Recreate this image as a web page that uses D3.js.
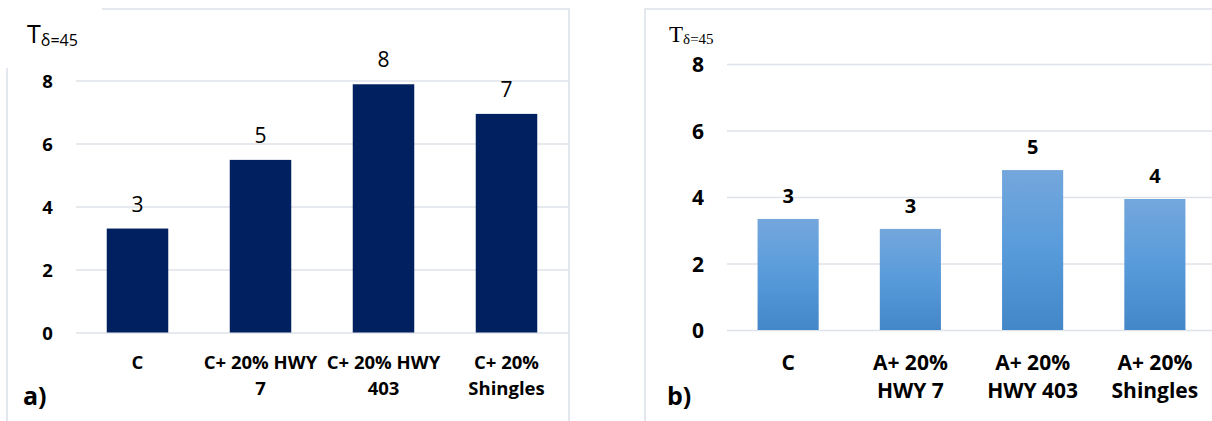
<!DOCTYPE html>
<html>
<head>
<meta charset="utf-8">
<script src="https://cdn.jsdelivr.net/npm/d3@7/dist/d3.min.js"></script>
<style>
  html, body { margin: 0; padding: 0; background: #fff; }
  svg { display: block; }
</style>
</head>
<body>
<svg id="chart" width="1212" height="421"></svg>
<script>
// Panel a) data
const catsA = [["C"], ["C+ 20% HWY", "7"], ["C+ 20% HWY", "403"], ["C+ 20%", "Shingles"]];
const valsA = [3.30, 5.48, 7.88, 6.94];
// Panel b) data
const catsB = [["C"], ["A+ 20%", "HWY 7"], ["A+ 20%", "HWY 403"], ["A+ 20%", "Shingles"]];
const valsB = [3.34, 3.04, 4.81, 3.94];
// Shared y-axis ticks
const yTicks = [0, 2, 4, 6, 8];

const svg = d3.select("#chart");
const sans = "'Open Sans', Lato, sans-serif";
const fmt = d3.format(".0f");

// Vertical gradient for the light-blue bars
const defs = svg.append("defs");
const grad = defs.append("linearGradient").attr("id", "blueGrad")
  .attr("x1", 0).attr("y1", 0).attr("x2", 0).attr("y2", 1);
grad.append("stop").attr("offset", "0%").attr("stop-color", "#74a7dc");
grad.append("stop").attr("offset", "50%").attr("stop-color", "#589bdb");
grad.append("stop").attr("offset", "100%").attr("stop-color", "#4487c8");

const frameColor = "#dde2ea";
const gridColor = "#dee2e9";

function panel(o) {
  const g = svg.append("g");
  const x = d3.scaleBand().domain(d3.range(o.cats.length))
    .range([o.x0, o.x1]).paddingInner(0.5).paddingOuter(0.25);
  const y = d3.scaleLinear().domain([0, 8]).range([o.y0, o.y8]);

  // gridlines + y tick labels
  const ax = g.append("g").attr("transform", `translate(${o.x0},0)`)
    .call(d3.axisLeft(y).tickValues(yTicks).tickFormat(d3.format("d"))
      .tickSize(-(o.gridEnd - o.x0)).tickPadding(0));
  ax.select(".domain").remove();
  ax.selectAll(".tick line").attr("stroke", gridColor).attr("stroke-width", 1.6);
  ax.selectAll(".tick text")
    .attr("x", o.tickX - o.x0).attr("dy", "0.36em")
    .attr("text-anchor", "middle")
    .style("font-family", sans).style("font-weight", 700)
    .style("font-size", o.tickSize + "px").attr("fill", "#000");

  // bars
  g.selectAll("rect.bar").data(o.vals).join("rect")
    .attr("class", "bar")
    .attr("x", (d, i) => x(i)).attr("width", x.bandwidth())
    .attr("y", d => y(d)).attr("height", d => y(0) - y(d))
    .attr("fill", o.fill);

  // value labels
  g.selectAll("text.val").data(o.vals).join("text")
    .attr("class", "val")
    .attr("x", (d, i) => x(i) + x.bandwidth() / 2)
    .attr("y", d => y(d) - o.valGap)
    .attr("text-anchor", "middle")
    .style("font-family", sans).style("font-weight", o.valWeight)
    .style("font-size", o.valSize + "px").attr("fill", "#000")
    .text(d => fmt(d));

  // category labels (wrapped lines)
  const lab = g.selectAll("text.cat").data(o.cats).join("text")
    .attr("class", "cat")
    .attr("text-anchor", "middle")
    .style("font-family", sans).style("font-weight", 700)
    .style("font-size", o.catSize + "px").attr("fill", "#000");
  lab.each(function (lines, i) {
    const t = d3.select(this);
    lines.forEach((ln, j) => {
      t.append("tspan")
        .attr("x", x(i) + x.bandwidth() / 2)
        .attr("y", o.catY + j * o.catLead)
        .text(ln);
    });
  });

  // panel letter
  g.append("text").attr("x", o.letterX).attr("y", o.letterY)
    .style("font-family", sans).style("font-weight", 700)
    .style("font-size", "25px").attr("fill", "#000").text(o.letter);

  // y-axis title T with subscript
  const tt = g.append("text").attr("x", o.titleX).attr("y", o.titleY)
    .style("font-family", o.titleFont).attr("fill", "#000");
  tt.append("tspan").style("font-size", o.titleSize + "px").text("T");
  tt.append("tspan").style("font-size", o.subSize + "px").attr("dy", o.subDy).text("δ=45");
}

// frames
svg.append("path").attr("fill", "none").attr("stroke", frameColor).attr("stroke-width", 1.6)
  .attr("d", "M7,421 V68 M102,9 H569 V421");
svg.append("path").attr("fill", "none").attr("stroke", frameColor).attr("stroke-width", 1.6)
  .attr("d", "M645,421 V9 H1212");

panel({
  cats: catsA, vals: valsA, fill: "#002060",
  x0: 76, x1: 568, gridEnd: 569, y0: 332.5, y8: 80.5,
  tickX: 47.5, tickSize: 18.5,
  valGap: 17, valSize: 21, valWeight: 400,
  catSize: 18.5, catY: 369, catLead: 26,
  letter: "a)", letterX: 23, letterY: 405,
  titleX: 27, titleY: 43, titleFont: sans, titleSize: 25, subSize: 16, subDy: 3
});

panel({
  cats: catsB, vals: valsB, fill: "url(#blueGrad)",
  x0: 727, x1: 1216, gridEnd: 1212, y0: 330, y8: 64,
  tickX: 698, tickSize: 21,
  valGap: 16, valSize: 20, valWeight: 700,
  catSize: 21, catY: 369.5, catLead: 28,
  letter: "b)", letterX: 667, letterY: 405,
  titleX: 669, titleY: 41.5, titleFont: "'Liberation Serif', 'Times New Roman', serif", titleSize: 23, subSize: 15, subDy: 2
});
</script>
</body>
</html>
